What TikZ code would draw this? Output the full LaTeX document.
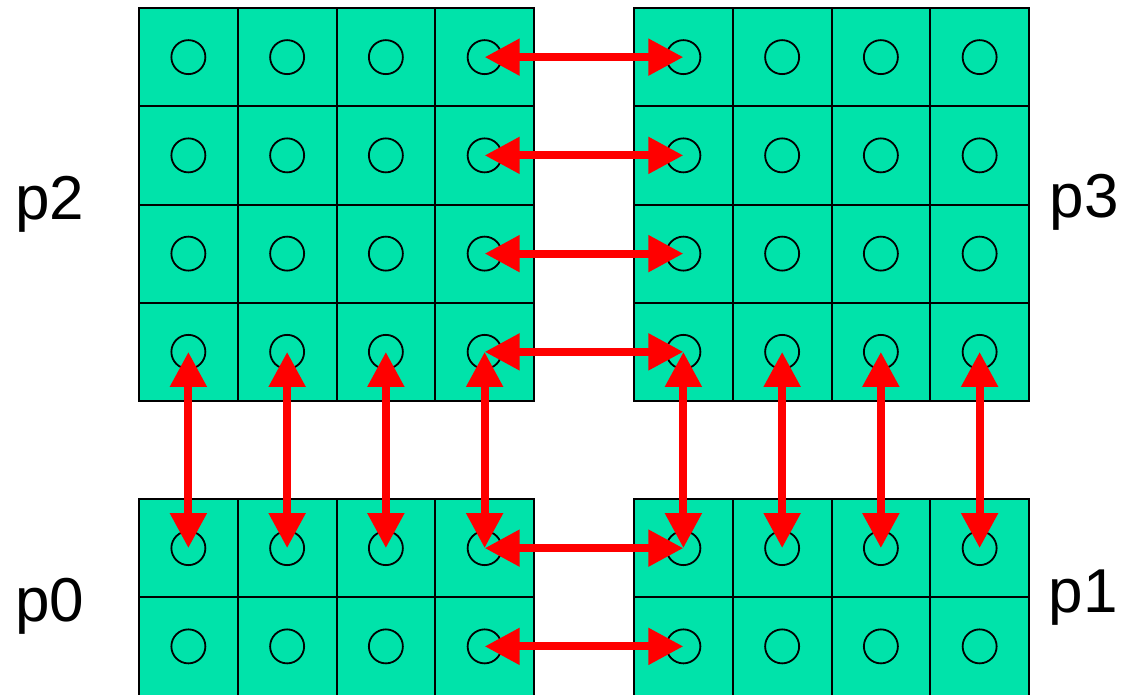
\documentclass[tikz,border=0pt]{standalone}
\usepackage{fontspec}
\setmainfont{Liberation Sans}
\usetikzlibrary{arrows.meta}
\definecolor{cellgreen}{RGB}{0,227,170}

\begin{document}
\begin{tikzpicture}[
  x=1pt, y=-1pt,
  cell/.style={
    draw=black, line width=2pt, fill=cellgreen,
    minimum width=98.75pt, minimum height=98.25pt,
    inner sep=0pt, outer sep=0pt
  },
  dot/.style={circle, draw=black, line width=1.8pt, minimum size=34pt, inner sep=0pt},
  link/.style={
    {Triangle[length=35pt, width=35pt]}-{Triangle[length=35pt, width=35pt]},
    draw=red, line width=8pt
  },
  lbl/.style={font=\fontsize{62}{62}\selectfont, anchor=base, inner sep=0pt}
]
  \useasboundingbox (0,0) rectangle (1123,695);

  % upper blocks: p2 (a) and p3 (b)
  \foreach \r in {1,...,4}
    \foreach \c in {1,...,4} {
      \node[cell] (ca\r\c) at ({139+98.75*(\c-0.5)}, {8+98.25*(\r-0.5)}) {};
      \node[dot] (a\r\c) at (ca\r\c.center) {};
      \node[cell] (cb\r\c) at ({634+98.75*(\c-0.5)}, {8+98.25*(\r-0.5)}) {};
      \node[dot] (b\r\c) at (cb\r\c.center) {};
    }

  % lower blocks: p0 (c) and p1 (d)
  \foreach \r in {1,2}
    \foreach \c in {1,...,4} {
      \node[cell] (cc\r\c) at ({139+98.75*(\c-0.5)}, {499+98.25*(\r-0.5)}) {};
      \node[dot] (c\r\c) at (cc\r\c.center) {};
      \node[cell] (cd\r\c) at ({634+98.75*(\c-0.5)}, {499+98.25*(\r-0.5)}) {};
      \node[dot] (d\r\c) at (cd\r\c.center) {};
    }

  % halo exchange
  \foreach \r in {1,...,4}
    \draw[link] (a\r4.center) -- (b\r1.center);
  \foreach \r in {1,2}
    \draw[link] (c\r4.center) -- (d\r1.center);
  \foreach \c in {1,...,4} {
    \draw[link] (a4\c.center) -- (c1\c.center);
    \draw[link] (b4\c.center) -- (d1\c.center);
  }

  \node[lbl] (p2) at (50,219) {p2};
  \node[lbl] (p3) at (1084,217) {p3};
  \node[lbl] (p0) at (50,621) {p0};
  \node[lbl] (p1) at (1083,612) {p1};
\end{tikzpicture}
\end{document}
